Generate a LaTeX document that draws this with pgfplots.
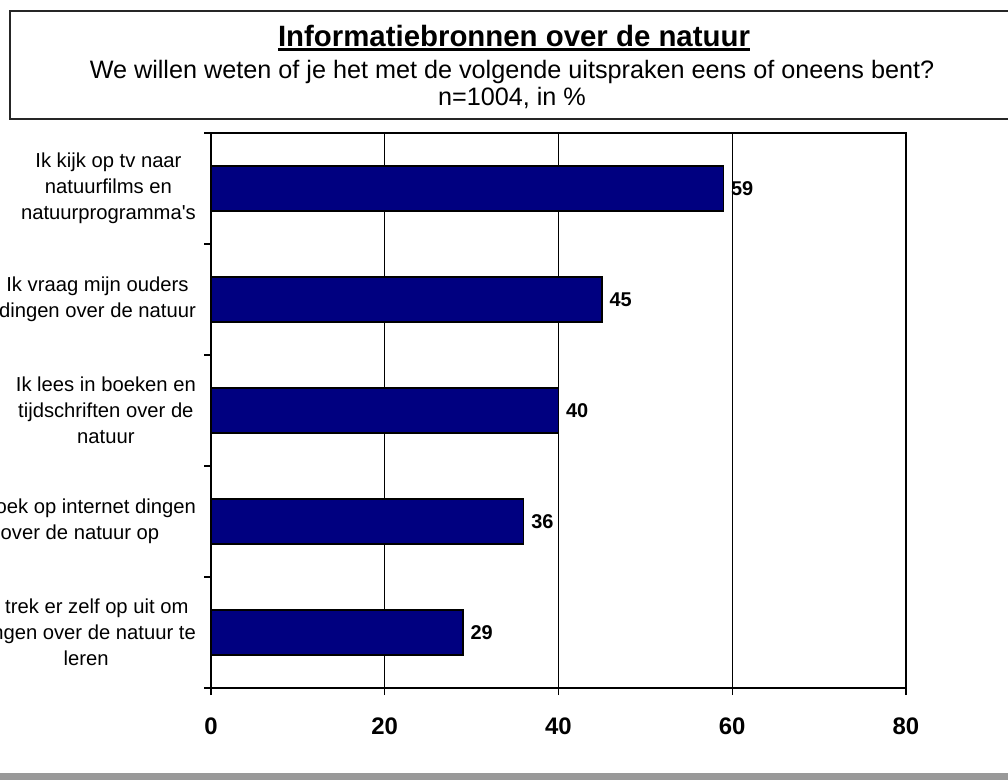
\documentclass[border=0pt]{standalone}
\usepackage{fontspec}
\setmainfont{Liberation Sans}[Ligatures=TeXOff]
\usepackage{pgfplots}
\pgfplotsset{compat=1.18}
\definecolor{barblue}{HTML}{000080}
\definecolor{footgray}{HTML}{999999}

\begin{document}
\begin{tikzpicture}
% title box
\draw[line width=1.5bp, black!85] (10bp,661bp) rectangle (1015bp,769bp);
\node[anchor=base, inner sep=0pt, font=\fontsize{29.5}{34}\selectfont\bfseries] (t) at (514bp,733bp) {Informatiebronnen over de natuur};
\draw[line width=2.5bp] ([yshift=-2.5bp]t.base west) -- ([yshift=-2.5bp]t.base east);
\node[anchor=base, inner sep=0pt, font=\fontsize{25.3}{28}\selectfont] at (512bp,701bp) {We willen weten of je het met de volgende uitspraken eens of oneens bent?};
\node[anchor=base, inner sep=0pt, font=\fontsize{25.3}{28}\selectfont] at (512bp,674bp) {n=1004, in \%};

\begin{axis}[
  at={(211bp,92bp)}, anchor=south west,
  scale only axis, width=695bp, height=555bp,
  xbar, bar width=45bp,
  xmin=0, xmax=80, xtick={0,20,40,60,80},
  ymin=-0.5, ymax=4.5,
  ytick={-0.5,0.5,1.5,2.5,3.5,4.5},
  y tick label as interval,
  yticklabels={
    {Ik trek er zelf op uit om\\dingen over de natuur te\\leren},
    {Ik zoek op internet dingen\\over de natuur op},
    {Ik lees in boeken en\\tijdschriften over de\\natuur},
    {Ik vraag mijn ouders\\dingen over de natuur},
    {Ik kijk op tv naar\\natuurfilms en\\natuurprogramma's}},
  xtick pos=left, ytick pos=left,
  tick align=outside, major tick length=7bp,
  xmajorgrids,
  grid style={black, line width=1.2bp},
  axis line style={black, line width=1.5bp},
  tick style={black, line width=1.2bp},
  /pgf/number format/assume math mode=true,
  xticklabel style={font=\fontsize{24}{28}\selectfont\bfseries, anchor=north, inner sep=0pt, yshift=-23bp},
  yticklabel style={font=\fontsize{20.3}{26}\selectfont, align=center, anchor=east, inner sep=0pt, xshift=-8bp},
  nodes near coords,
  nodes near coords style={font=\fontsize{20}{24}\selectfont\bfseries, anchor=west, inner sep=0pt, xshift=7bp},
]
\addplot[fill=barblue, draw=black, line width=1.2bp] coordinates {
  (29,0) (36,1) (40,2) (45,3) (59,4)
};
\end{axis}

\fill[footgray] (0,0) rectangle (1008bp,7bp);
\pgfresetboundingbox
\path[use as bounding box] (0,0) rectangle (1008bp,780bp);
\end{tikzpicture}
\end{document}
